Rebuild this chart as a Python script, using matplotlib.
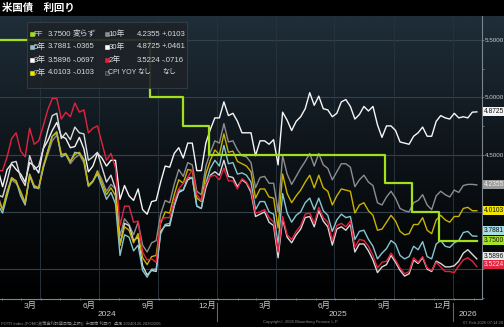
import numpy as np
import pandas as pd
import matplotlib
matplotlib.use("Agg")
import matplotlib.pyplot as plt
import matplotlib.dates as mdates
from matplotlib import transforms
from matplotlib.colors import LinearSegmentedColormap
from matplotlib.patches import Rectangle

plt.rcParams["font.family"] = ["Liberation Sans", "Noto Sans CJK JP", "DejaVu Sans"]

# weekly closes (Fri), 2024-01-26 .. 2026-02-06
dates = pd.date_range("2024-01-26", periods=107, freq="W-FRI")

y2 = [4.36,
      4.36, 4.48, 4.64, 4.69,
      4.53, 4.48, 4.73, 4.59, 4.62,
      4.75, 4.89, 4.99, 4.99,
      4.81, 4.87, 4.83, 4.95, 4.87,
      4.89, 4.69, 4.73, 4.75,
      4.60, 4.45, 4.51, 4.38,
      3.88, 4.05, 4.05, 3.91, 3.92,
      3.65, 3.58, 3.59, 3.56,
      3.93, 3.95, 3.95, 4.10,
      4.20, 4.25, 4.30, 4.37, 4.15,
      4.10, 4.24, 4.31, 4.32,
      4.28, 4.38, 4.27, 4.27, 4.20,
      4.29, 4.26, 4.19, 3.99,
      4.00, 4.02, 3.95, 3.91,
      3.65, 3.96, 3.80, 3.76,
      3.83, 3.88, 3.98, 3.99, 3.90,
      4.04, 3.95, 3.91, 3.75,
      3.88, 3.90, 3.87, 3.92,
      3.69, 3.76, 3.75, 3.70, 3.62,
      3.51, 3.56, 3.57, 3.64,
      3.58, 3.51, 3.46, 3.48, 3.60,
      3.56, 3.61, 3.51, 3.49,
      3.56, 3.52, 3.48, 3.48,
      3.47, 3.53, 3.58, 3.60, 3.57,
      3.5224]

y3 = [4.15,
      4.13, 4.27, 4.43, 4.44,
      4.30, 4.23, 4.49, 4.37, 4.40,
      4.55, 4.71, 4.84, 4.86,
      4.64, 4.69, 4.63, 4.74, 4.69,
      4.68, 4.45, 4.48, 4.52,
      4.39, 4.26, 4.32, 4.20,
      3.71, 3.90, 3.88, 3.75, 3.78,
      3.53, 3.45, 3.49, 3.48,
      3.83, 3.88, 3.88, 4.05,
      4.17, 4.19, 4.28, 4.30, 4.05,
      4.03, 4.21, 4.32, 4.35,
      4.32, 4.45, 4.31, 4.30, 4.22,
      4.28, 4.25, 4.17, 3.96,
      3.98, 4.00, 3.91, 3.88,
      3.60, 3.94, 3.78, 3.73,
      3.80, 3.85, 3.95, 3.96, 3.87,
      4.01, 3.92, 3.87, 3.71,
      3.85, 3.87, 3.84, 3.89,
      3.65, 3.72, 3.72, 3.66, 3.58,
      3.47, 3.52, 3.54, 3.62,
      3.56, 3.49, 3.44, 3.46, 3.58,
      3.55, 3.60, 3.50, 3.48,
      3.57, 3.55, 3.52, 3.52,
      3.53, 3.57, 3.64, 3.67, 3.63,
      3.5896]

y5 = [4.06,
      3.99, 4.14, 4.29, 4.27,
      4.14, 4.06, 4.32, 4.21, 4.21,
      4.38, 4.53, 4.66, 4.69,
      4.48, 4.50, 4.44, 4.52, 4.51,
      4.46, 4.23, 4.27, 4.33,
      4.22, 4.11, 4.17, 4.07,
      3.62, 3.80, 3.78, 3.66, 3.71,
      3.49, 3.43, 3.50, 3.50,
      3.81, 3.89, 3.90, 4.06,
      4.19, 4.19, 4.30, 4.30, 4.05,
      4.03, 4.25, 4.38, 4.45,
      4.40, 4.58, 4.42, 4.43, 4.33,
      4.34, 4.32, 4.26, 4.02,
      4.09, 4.09, 4.00, 3.98,
      3.72, 4.16, 3.99, 3.91,
      3.97, 4.00, 4.08, 4.12, 4.02,
      4.12, 4.01, 3.97, 3.83,
      3.93, 3.98, 3.95, 3.96,
      3.76, 3.83, 3.84, 3.76, 3.70,
      3.59, 3.64, 3.68, 3.75,
      3.72, 3.62, 3.59, 3.61, 3.70,
      3.67, 3.74, 3.61, 3.59,
      3.72, 3.75, 3.70, 3.69,
      3.73, 3.75, 3.82, 3.83, 3.79,
      3.7881]

y7 = [4.11,
      4.02, 4.17, 4.30, 4.27,
      4.17, 4.08, 4.33, 4.23, 4.21,
      4.40, 4.53, 4.66, 4.70,
      4.50, 4.51, 4.44, 4.50, 4.52,
      4.45, 4.23, 4.27, 4.35,
      4.25, 4.15, 4.21, 4.14,
      3.71, 3.87, 3.84, 3.73, 3.81,
      3.60, 3.54, 3.61, 3.62,
      3.90, 4.00, 3.99, 4.15,
      4.28, 4.25, 4.37, 4.36, 4.12,
      4.09, 4.33, 4.45, 4.54,
      4.50, 4.68, 4.52, 4.53, 4.44,
      4.42, 4.40, 4.35, 4.12,
      4.20, 4.20, 4.13, 4.12,
      3.86, 4.33, 4.16, 4.08,
      4.14, 4.19, 4.26, 4.32, 4.21,
      4.32, 4.21, 4.18, 4.06,
      4.14, 4.20, 4.19, 4.18,
      3.99, 4.06, 4.08, 4.01, 3.97,
      3.84, 3.85, 3.91, 3.97,
      3.92, 3.83, 3.80, 3.81, 3.89,
      3.89, 3.95, 3.84, 3.81,
      3.93, 3.97, 3.93, 3.91,
      3.96, 3.96, 4.03, 4.04, 4.01,
      4.0103]

y10 = [4.14,
       4.02, 4.18, 4.28, 4.25,
       4.18, 4.08, 4.31, 4.22, 4.20,
       4.39, 4.50, 4.62, 4.67,
       4.50, 4.50, 4.42, 4.47, 4.50,
       4.43, 4.22, 4.26, 4.36,
       4.28, 4.18, 4.24, 4.20,
       3.79, 3.94, 3.89, 3.80, 3.91,
       3.71, 3.65, 3.73, 3.75,
       3.98, 4.10, 4.08, 4.24,
       4.37, 4.31, 4.43, 4.41, 4.18,
       4.15, 4.40, 4.52, 4.62,
       4.60, 4.77, 4.61, 4.62, 4.54,
       4.49, 4.48, 4.43, 4.21,
       4.30, 4.31, 4.25, 4.25,
       4.00, 4.49, 4.33, 4.24,
       4.31, 4.38, 4.44, 4.51, 4.40,
       4.51, 4.41, 4.38, 4.28,
       4.35, 4.42, 4.42, 4.39,
       4.22, 4.28, 4.32, 4.26, 4.23,
       4.08, 4.06, 4.13, 4.18,
       4.12, 4.03, 4.01, 4.00, 4.08,
       4.10, 4.15, 4.06, 4.02,
       4.14, 4.18, 4.15, 4.13,
       4.19, 4.17, 4.23, 4.24, 4.24,
       4.2355]

y30 = [4.37,
       4.22, 4.37, 4.42, 4.37,
       4.33, 4.26, 4.43, 4.40, 4.34,
       4.55, 4.62, 4.71, 4.78,
       4.66, 4.64, 4.56, 4.57, 4.65,
       4.55, 4.35, 4.40, 4.51,
       4.47, 4.40, 4.45, 4.45,
       4.11, 4.23, 4.14, 4.10, 4.20,
       4.02, 3.98, 4.09, 4.10,
       4.26, 4.40, 4.39, 4.51,
       4.56, 4.47, 4.60, 4.60, 4.36,
       4.36, 4.60, 4.72, 4.82,
       4.82, 4.96, 4.84, 4.86, 4.79,
       4.69, 4.69, 4.69, 4.49,
       4.62, 4.62, 4.59, 4.63,
       4.41, 4.87, 4.80, 4.71,
       4.79, 4.83, 4.90, 5.04, 4.93,
       5.01, 4.90, 4.89, 4.83,
       4.86, 4.96, 4.98, 4.92,
       4.81, 4.85, 4.92, 4.88, 4.92,
       4.76, 4.65, 4.75, 4.75,
       4.71, 4.61, 4.60, 4.59, 4.66,
       4.69, 4.74, 4.66, 4.66,
       4.79, 4.84, 4.82, 4.81,
       4.86, 4.82, 4.83, 4.82, 4.87,
       4.8725]

# FF target upper bound
ff_dates = pd.to_datetime(["2024-01-26", "2024-09-18", "2024-11-07", "2024-12-18",
                           "2025-09-17", "2025-10-29", "2025-12-10", "2026-02-06"])
ff_rate = [5.50, 5.00, 4.75, 4.50, 4.25, 4.00, 3.75, 3.75]

# legend text
leg_left = [("FF", "3.7500", "変らず"), ("5年", "3.7881", "-.0365"),
            ("3年", "3.5896", "-.0697"), ("7年", "4.0103", "-.0103")]
leg_right = [("10年", "4.2355", "+.0103"), ("30年", "4.8725", "+.0461"),
             ("2年", "3.5224", "-.0716"), ("CPI YOY", "なし", "なし")]

month_labels = ["3月", "6月", "9月", "12月", "3月", "6月", "9月", "12月"]
month_pos = pd.to_datetime(["2024-03-15", "2024-06-15", "2024-09-15", "2024-12-15",
                            "2025-03-15", "2025-06-15", "2025-09-15", "2025-12-15"])
year_labels = ["2024", "2025", "2026"]
year_pos = pd.to_datetime(["2024-07-13", "2025-07-06", "2026-01-23"])

C_FF, C2, C3, C5, C7, C10, C30 = ("#a3e01a", "#e3233f", "#dadada", "#86c6cf",
                                   "#c9b300", "#8e8e8e", "#f6f6f6")

W, H = 504, 327
fig = plt.figure(figsize=(W / 100, H / 100), dpi=100, facecolor="black")


def fx(px):
    return px / W


def fy(py):
    return 1 - py / H


top, bot = 16, 299
bg = fig.add_axes([0, fy(bot), 1, (bot - top) / H], zorder=-2)
bg.imshow(np.linspace(0, 1, 256).reshape(-1, 1), aspect="auto", extent=[0, 1, 0, 1],
          cmap=LinearSegmentedColormap.from_list("bg", ["#1f2e39", "#0d1318", "#000000"]))
bg.set_axis_off()

ax = fig.add_axes([0, fy(bot), fx(482), (bot - top) / H])
ax.patch.set_visible(False)

for v in [3.5, 4.0, 4.5, 5.0, 5.5]:
    ax.axhline(v, color="#34414b", lw=0.8, zorder=1)
for d in pd.to_datetime(["2024-03-31", "2024-06-30", "2024-09-30", "2024-12-31",
                         "2025-03-31", "2025-06-30", "2025-09-30", "2025-12-31"]):
    ax.axvline(d, color="#27323b", lw=0.7, zorder=1)

for vals, c in [(y10, C10), (y30, C30), (y3, C3), (y5, C5), (y7, C7), (y2, C2)]:
    ax.plot(dates, vals, color=c, lw=1.0, zorder=3)
ax.plot(ff_dates, ff_rate, drawstyle="steps-post", color=C_FF, lw=1.6, zorder=4)

ax.set_xlim(pd.Timestamp("2024-01-29"), pd.Timestamp("2026-02-14"))
ax.set_ylim(3.24, 5.709)

for s in ["top", "left"]:
    ax.spines[s].set_visible(False)
for s in ["right", "bottom"]:
    ax.spines[s].set_color("#7d858c")
    ax.spines[s].set_linewidth(0.8)

ax.yaxis.tick_right()
ax.set_yticks([4.5, 5.0, 5.5])
ax.set_yticklabels(["4.5000", "5.0000", "5.5000"])
ax.set_yticks(np.arange(3.25, 5.7, 0.25), minor=True)
ax.tick_params(axis="y", which="both", colors="#7d858c", labelcolor="#c9cdd1",
               labelsize=4.5, length=1.5, width=0.6, pad=0.3)

ax.set_xticks(pd.date_range("2024-02-01", "2026-02-01", freq="MS"))
ax.set_xticklabels([])
ax.tick_params(axis="x", colors="#7d858c", length=2, width=0.6, direction="inout")

tr = transforms.blended_transform_factory(ax.transData, ax.transAxes)
ah = bot - top
for lab, d in zip(month_labels, month_pos):
    ax.text(mdates.date2num(d), -7 / ah, lab, transform=tr, ha="center", va="center",
            fontsize=6, color="#c8ccd0")
for lab, d in zip(year_labels, year_pos):
    ax.text(mdates.date2num(d), -15.5 / ah, lab, transform=tr, ha="center", va="center",
            fontsize=6, color="#c8ccd0")
for d in pd.to_datetime(["2024-12-31", "2025-12-31"]):
    x = mdates.date2num(d)
    ax.plot([x, x], [-4 / ah, -22 / ah], transform=tr, clip_on=False,
            color="#5f666c", lw=0.8)

# value tags on the right axis
tr2 = transforms.blended_transform_factory(ax.transAxes, ax.transData)
tags = [(y30[-1], "4.8725", "#f4f4f4", "#111111", 0),
        (y10[-1], "4.2355", "#9a9a9a", "#f0f0f0", 0),
        (y7[-1], "4.0103", "#f2e600", "#111111", 0),
        (y5[-1], "3.7881", "#a9dde4", "#111111", 4),
        (ff_rate[-1], "3.7500", "#a6e22a", "#111111", 0),
        (y3[-1], "3.5896", "#e8e8e8", "#111111", 1.5),
        (y2[-1], "3.5224", "#e3233f", "#ffe0e4", 1.2)]
for val, txt, fc, tc, dy in tags:
    ax.annotate(txt, xy=(1, val), xycoords=tr2, xytext=(1.6, dy), textcoords="offset points",
                ha="left", va="center", fontsize=4.8, color=tc, annotation_clip=False,
                bbox=dict(boxstyle="square,pad=0.15", fc=fc, ec="none"), zorder=10)

# legend box
fig.add_artist(Rectangle((fx(27), fy(88)), 160 / W, 66 / H, transform=fig.transFigure,
                         facecolor="#1d2227", alpha=0.9, edgecolor="#3c4248", lw=0.6, zorder=5))
rows = [34, 47, 60, 73]
left_cols = [C_FF, C5, "#ffffff", "#f2e600"]
right_cols = [C10, "#ffffff", C2, "#3a3f44"]
for i, y in enumerate(rows):
    for (lab, val, chg), col, xm, xl, xv, xc in [
            (leg_left[i], left_cols[i], 29.5, 33.5, 48, 73),
            (leg_right[i], right_cols[i], 104.5, 108.5, 137, 162)]:
        fig.add_artist(Rectangle((fx(xm), fy(y + 2)), 4 / W, 4 / H, transform=fig.transFigure,
                                 facecolor=col, edgecolor="#70757a" if lab == "CPI YOY" else col,
                                 lw=0.4, zorder=6))
        fs = 5.0 if lab == "CPI YOY" else 5.6
        for t, xx in [(lab, xl), (val, xv), (chg, xc)]:
            fig.text(fx(xx), fy(y), t, fontsize=fs, color="#d8dcdf", va="center", zorder=7)

fig.text(fx(2), fy(8), "米国債　利回り", fontsize=7.5, color="white", va="center",
         fontweight="bold")
fig.text(fx(1), fy(323), "FDTR Index (FOMC政策金利誘導目標(上限))  米国債 利回り  週足 20240126-20260206",
         fontsize=3, color="#8a8a8a", va="center")
fig.text(fx(263), fy(322), "Copyright© 2026 Bloomberg Finance L.P.", fontsize=3,
         color="#8a8a8a", va="center")
fig.text(fx(503), fy(323), "07-Feb-2026 07:14:20", fontsize=3, color="#8a8a8a",
         va="center", ha="right")

fig.savefig("out.png", dpi=100, facecolor="black")
